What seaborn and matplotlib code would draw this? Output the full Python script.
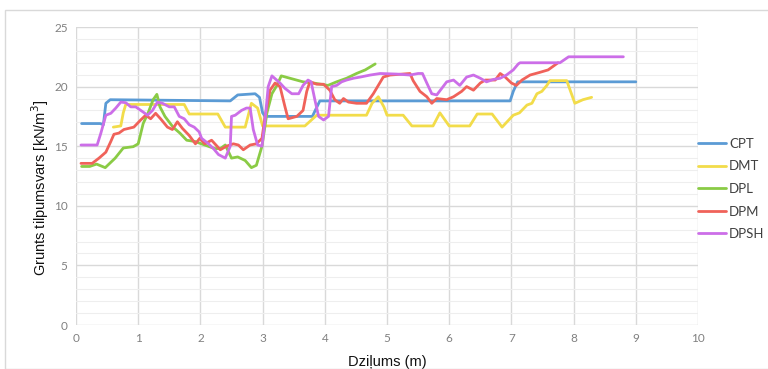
import matplotlib
matplotlib.use("Agg")
import matplotlib.pyplot as plt
import matplotlib.patches as mpatches
from matplotlib.ticker import MultipleLocator
import numpy as np
import pandas as pd
import seaborn as sns

# Depth (m) and unit weight (kN/m3) per test method
cpt_x = [0.09, 0.39, 0.44, 0.48, 0.55, 2.48, 2.6, 2.88, 2.95, 3.0, 3.04, 3.8, 3.92, 6.98, 7.03, 7.1, 9.0]
cpt_y = [16.9, 16.9, 16.8, 18.6, 18.9, 18.8, 19.3, 19.4, 19.1, 17.8, 17.5, 17.5, 18.8, 18.8, 19.6, 20.4, 20.4]

dmt_x = [0.6, 0.72, 0.76, 0.8, 1.74, 1.82, 2.28, 2.4, 2.72, 2.82, 2.92, 3.0, 3.68, 3.87, 4.67, 4.76, 4.86, 4.95, 5.0,
         5.26, 5.4, 5.74, 5.85, 6.0, 6.33, 6.45, 6.69, 6.85, 7.03, 7.13, 7.25, 7.33, 7.41, 7.49, 7.57, 7.62, 7.89,
         8.02, 8.15, 8.29]
dmt_y = [16.6, 16.7, 17.8, 18.5, 18.5, 17.7, 17.7, 16.6, 16.6, 18.6, 18.2, 16.7, 16.7, 17.6, 17.6, 18.6, 19.15,
         18.3, 17.6, 17.6, 16.7, 16.7, 17.8, 16.7, 16.7, 17.7, 17.7, 16.6, 17.6, 17.8, 18.45, 18.6, 19.4, 19.6,
         20.1, 20.5, 20.5, 18.6, 18.9, 19.1]

dpl_x = [0.09, 0.22, 0.33, 0.47, 0.63, 0.76, 0.92, 1.0, 1.08, 1.16, 1.24, 1.3, 1.35, 1.43, 1.56, 1.67, 1.78, 1.91,
         2.07, 2.23, 2.32, 2.4, 2.5, 2.6, 2.72, 2.82, 2.9, 2.99, 3.07, 3.15, 3.23, 3.3, 3.44, 3.65, 3.82, 4.05,
         4.19, 4.35, 4.51, 4.65, 4.81]
dpl_y = [13.3, 13.3, 13.5, 13.2, 14.0, 14.85, 14.96, 15.2, 16.9, 17.8, 18.9, 19.35, 18.3, 17.5, 16.6, 16.1, 15.5,
         15.4, 15.1, 14.8, 14.8, 15.1, 14.0, 14.1, 13.8, 13.2, 13.4, 15.0, 17.8, 19.4, 20.1, 20.9, 20.7, 20.4,
         20.3, 20.1, 20.4, 20.7, 21.1, 21.4, 21.9]

dpm_x = [0.08, 0.26, 0.37, 0.48, 0.56, 0.61, 0.69, 0.77, 0.85, 0.93, 1.04, 1.12, 1.2, 1.28, 1.36, 1.47, 1.55, 1.63,
         1.71, 1.82, 1.92, 1.99, 2.07, 2.18, 2.32, 2.42, 2.53, 2.61, 2.69, 2.8, 2.9, 2.99, 3.04, 3.12, 3.2, 3.28,
         3.36, 3.41, 3.55, 3.65, 3.71, 3.76, 3.87, 3.98, 4.08, 4.16, 4.24, 4.3, 4.38, 4.51, 4.67, 4.78, 4.94,
         5.05, 5.37, 5.42, 5.53, 5.64, 5.72, 5.8, 5.96, 6.07, 6.2, 6.28, 6.39, 6.5, 6.58, 6.74, 6.82, 6.9, 7.0,
         7.08, 7.17, 7.3, 7.46, 7.59, 7.67, 7.75]
dpm_y = [13.56, 13.56, 14.0, 14.5, 15.4, 16.0, 16.1, 16.4, 16.5, 16.6, 17.2, 17.6, 17.3, 17.76, 17.3, 16.6, 16.4,
         17.05, 16.5, 15.9, 15.2, 15.66, 15.2, 15.5, 14.7, 15.0, 15.2, 15.1, 14.7, 15.1, 15.2, 15.66, 17.5, 19.7,
         20.3, 20.0, 18.3, 17.3, 17.5, 18.0, 19.6, 20.4, 20.2, 20.2, 19.7, 18.9, 18.6, 19.0, 18.7, 18.6, 18.6,
         19.4, 20.8, 20.97, 21.1, 20.5, 19.6, 19.15, 18.6, 19.0, 18.9, 19.15, 19.6, 20.0, 19.7, 20.3, 20.55,
         20.55, 21.1, 20.8, 20.3, 20.1, 20.55, 20.97, 21.2, 21.4, 21.7, 22.0]

dpsh_x = [0.08, 0.34, 0.4, 0.48, 0.56, 0.64, 0.72, 0.8, 0.88, 0.96, 1.07, 1.15, 1.23, 1.31, 1.39, 1.5, 1.58, 1.66,
          1.74, 1.82, 1.9, 1.98, 2.02, 2.13, 2.21, 2.29, 2.4, 2.48, 2.5, 2.56, 2.66, 2.74, 2.8, 2.85, 2.92, 2.99,
          3.04, 3.09, 3.15, 3.28, 3.36, 3.47, 3.58, 3.65, 3.73, 3.78, 3.84, 3.9, 3.98, 4.06, 4.11, 4.19, 4.27,
          4.35, 4.46, 4.57, 4.73, 4.89, 5.16, 5.37, 5.5, 5.57, 5.64, 5.72, 5.8, 5.88, 5.96, 6.07, 6.17, 6.28,
          6.39, 6.5, 6.6, 6.71, 6.82, 6.92, 7.03, 7.11, 7.14, 7.78, 7.92, 8.8]
dpsh_y = [15.1, 15.1, 16.1, 17.6, 17.76, 18.2, 18.7, 18.65, 18.3, 18.3, 17.9, 17.6, 18.0, 18.7, 18.6, 18.3, 18.3,
          17.5, 17.3, 16.8, 16.6, 16.2, 15.66, 15.2, 14.8, 14.3, 14.0, 15.0, 17.5, 17.6, 18.0, 18.2, 18.2, 16.4,
          15.1, 15.0, 17.2, 20.0, 20.9, 20.3, 19.85, 19.4, 19.4, 20.1, 20.55, 20.4, 18.9, 17.5, 17.2, 17.5,
          20.0, 20.1, 20.4, 20.55, 20.7, 20.8, 20.97, 21.1, 21.05, 20.97, 21.1, 21.1, 20.3, 19.4, 19.3, 19.85,
          20.4, 20.55, 20.1, 20.8, 20.97, 20.7, 20.4, 20.6, 20.7, 20.97, 21.4, 21.9, 22.0, 22.0, 22.5, 22.5]

methods = ["CPT", "DMT", "DPL", "DPM", "DPSH"]
colors = ["#5b9bd5", "#f2dc4a", "#8acb45", "#f0625a", "#cc6ee8"]

series = {"CPT": (cpt_x, cpt_y), "DMT": (dmt_x, dmt_y), "DPL": (dpl_x, dpl_y),
          "DPM": (dpm_x, dpm_y), "DPSH": (dpsh_x, dpsh_y)}
frames = []
for name in methods:
    xs, ys = series[name]
    frames.append(pd.DataFrame({"depth": xs, "gamma": ys, "method": name}))
df = pd.concat(frames, ignore_index=True)

sns.set_theme(style="white")
plt.rcParams["font.family"] = ["Liberation Sans", "DejaVu Sans"]

fig = plt.figure(figsize=(7.68, 3.69), dpi=100)
fig.patch.set_facecolor("white")
# outer chart frame
fig.patches.append(mpatches.Rectangle((5 / 768, 0), 1.0, 1 - 10 / 369, transform=fig.transFigure,
                                      fill=False, edgecolor="#d9d9d9", linewidth=1.0))

ax = fig.add_axes([76 / 768, 1 - 325 / 369, (698 - 76) / 768, (325 - 27) / 369])

sns.lineplot(data=df, x="depth", y="gamma", hue="method", hue_order=methods,
             palette=colors, sort=False, estimator=None, linewidth=2.0, ax=ax,
             solid_joinstyle="round", solid_capstyle="round")

ax.set_xlim(0, 10)
ax.set_ylim(0, 25)
ax.xaxis.set_major_locator(MultipleLocator(1))
ax.yaxis.set_major_locator(MultipleLocator(5))
ax.yaxis.set_minor_locator(MultipleLocator(1))
ax.grid(which="major", axis="both", color="#d9d9d9", linewidth=1.0)
ax.grid(which="minor", axis="y", color="#eeeeee", linewidth=0.8)
ax.set_axisbelow(True)
for s in ax.spines.values():
    s.set_visible(False)
ax.tick_params(axis="both", which="both", length=0, colors="#808080", labelsize=8.5, pad=6)
for lbl in ax.get_xticklabels() + ax.get_yticklabels():
    lbl.set_family(["Lato", "DejaVu Sans"])

ax.set_xlabel("Dziļums (m)", fontsize=10.5, color="#111111", labelpad=8)
ax.set_ylabel("Grunts tilpumsvars [kN/m$^3$]", fontsize=10.5, color="#111111")
ax.yaxis.set_label_coords(-0.04, 0.46)

handles, labels = ax.get_legend_handles_labels()
ax.legend(handles, labels, loc="center left", bbox_to_anchor=(0.909, 1 - 189 / 369),
          bbox_transform=fig.transFigure, frameon=False, handlelength=2.1,
          handletextpad=0.25, labelspacing=0.8, borderpad=0, borderaxespad=0,
          labelcolor="#404040", prop={"family": ["Lato", "DejaVu Sans"], "size": 9.5})

fig.savefig("out.png", dpi=100)
